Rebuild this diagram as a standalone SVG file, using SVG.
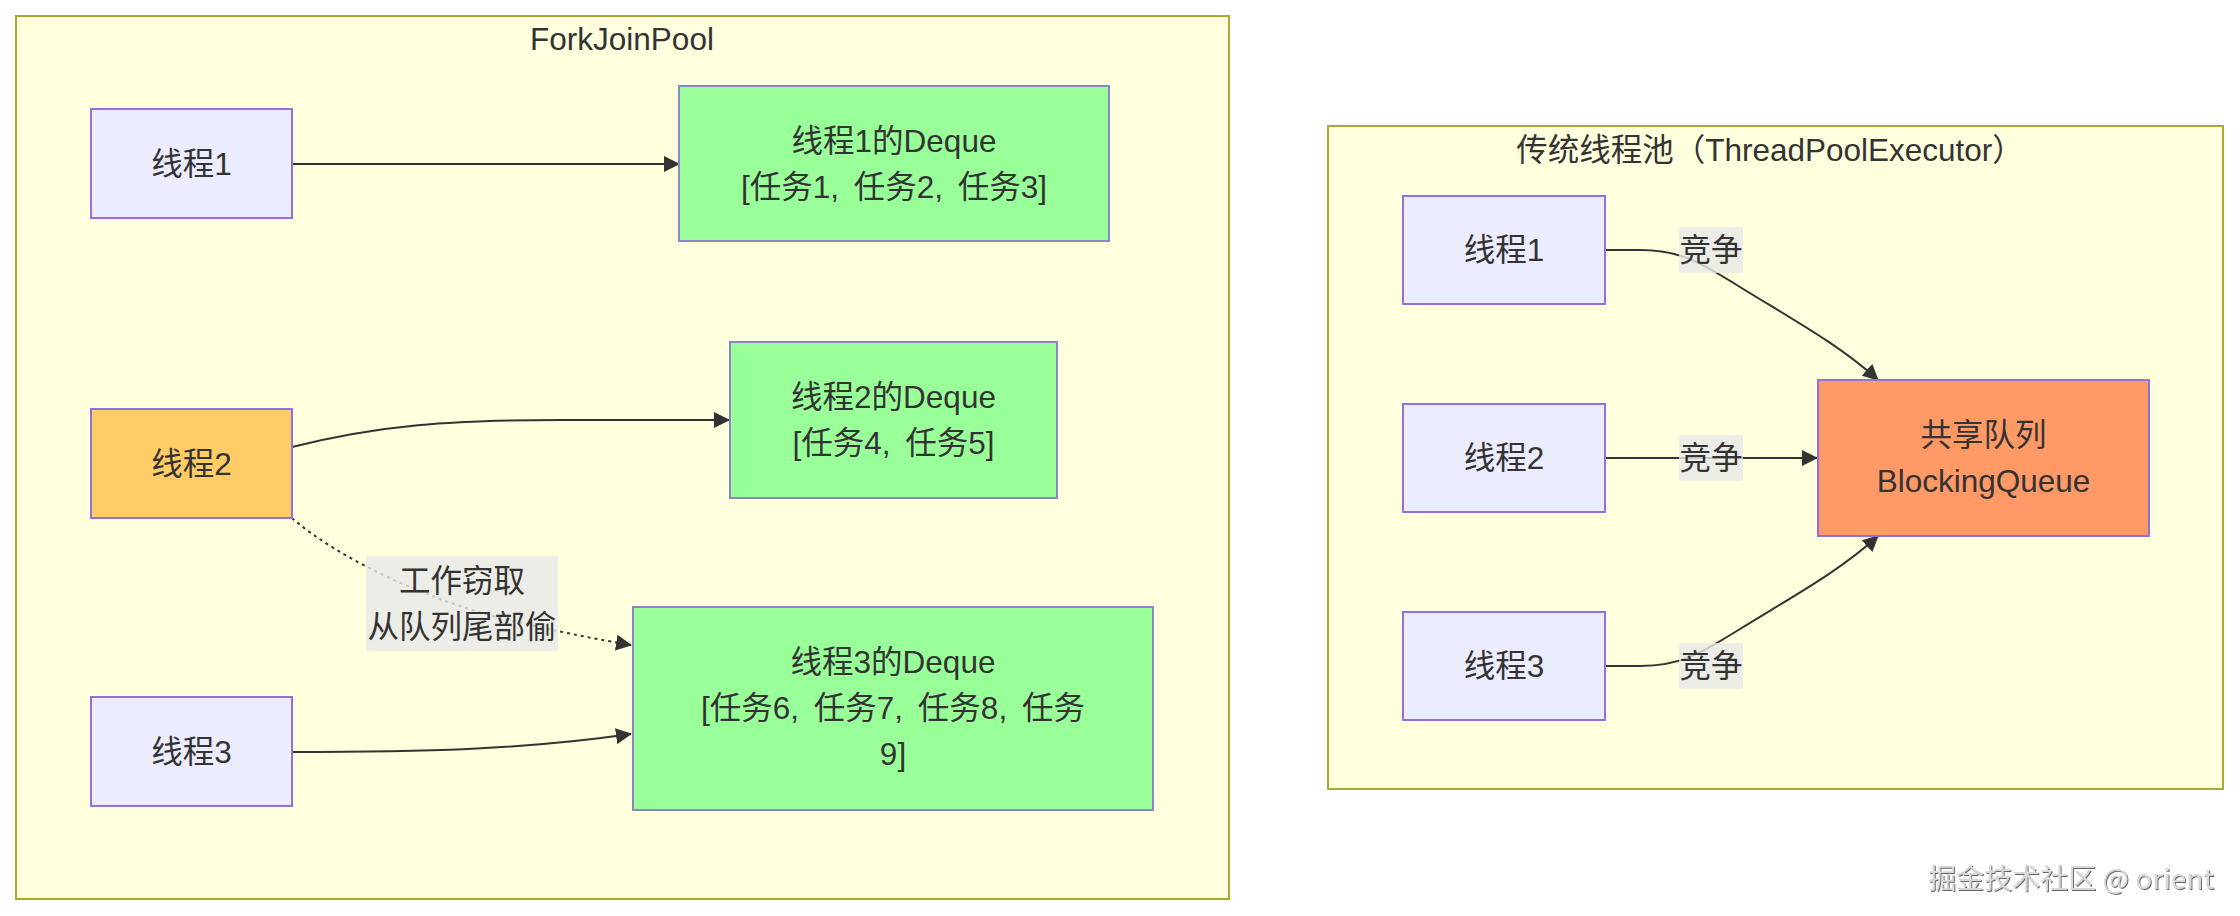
<svg xmlns="http://www.w3.org/2000/svg" width="2240" height="916" viewBox="0 0 2240 916">
<style>
text{font-family:"Liberation Sans","Noto Sans CJK SC",sans-serif;fill:#333;font-size:31.5px;text-anchor:middle;dominant-baseline:central}
.tasks{word-spacing:6px}
.cluster{fill:#ffffde;stroke:#aaaa33;stroke-width:2}
.thread{fill:#ececff;stroke:#9370db;stroke-width:2}
.deque{fill:#99ff99;stroke:#8c86c9;stroke-width:2}
.busy{fill:#ffcc66;stroke:#9370db;stroke-width:2}
.shared{fill:#ff9966;stroke:#9370db;stroke-width:2}
.edge{fill:none;stroke:#333;stroke-width:2}
.dotted{stroke-dasharray:3 4}
.lbl{fill:#e8e8e8;fill-opacity:0.8}
.wm{fill:#d8d8d8;font-size:28px;text-anchor:end;font-family:"Noto Sans CJK SC","Liberation Sans",sans-serif}
</style>
<defs>
<marker id="arrow" markerUnits="userSpaceOnUse" markerWidth="16" markerHeight="16" refX="15" refY="8" orient="auto">
<path d="M0,0 L16,8 L0,16 z" fill="#333"/>
</marker>
<filter id="shadow" x="-10%" y="-30%" width="120%" height="160%">
<feDropShadow dx="1" dy="1" stdDeviation="0.6" flood-color="#555" flood-opacity="0.9"/>
</filter>
</defs>
<g id="cluster-forkjoin">
<rect class="cluster" x="16" y="16" width="1213" height="883"/>
<text x="622" y="39">ForkJoinPool</text>
</g>
<g id="cluster-traditional">
<rect class="cluster" x="1328" y="126" width="895" height="663"/>
<text x="1770" y="150">传统线程池（ThreadPoolExecutor）</text>
</g>
<g id="connectors">
<path class="edge" d="M292,164 L679,164" marker-end="url(#arrow)"/>
<path class="edge" d="M292,447 C380,425 450,420 560,420 L729,420" marker-end="url(#arrow)"/>
<path class="edge" d="M292,752 C420,752 520,750 631,734" marker-end="url(#arrow)"/>
<path class="edge dotted" d="M292,518 C340,560 430,600 500,618 C560,632 600,640 631,645" marker-end="url(#arrow)"/>
<path class="edge" d="M1606,250 L1640,250 C1680,250 1700,262 1740,287 C1790,318 1840,345 1878,380" marker-end="url(#arrow)"/>
<path class="edge" d="M1606,458 L1817,458" marker-end="url(#arrow)"/>
<path class="edge" d="M1606,666 L1640,666 C1680,666 1700,654 1740,629 C1790,598 1840,571 1878,536" marker-end="url(#arrow)"/>
<g id="label-steal">
<rect class="lbl" x="366" y="556" width="192" height="95"/>
<text x="462" y="581">工作窃取</text>
<text x="462" y="627">从队列尾部偷</text>
</g>
<g id="label-compete1">
<rect class="lbl" x="1679" y="227" width="64" height="46"/>
<text x="1711" y="250">竞争</text>
</g>
<g id="label-compete2">
<rect class="lbl" x="1679" y="435" width="64" height="46"/>
<text x="1711" y="458">竞争</text>
</g>
<g id="label-compete3">
<rect class="lbl" x="1679" y="643" width="64" height="46"/>
<text x="1711" y="666">竞争</text>
</g>
</g>
<g id="A1">
<rect class="thread" x="91" y="109" width="201" height="109"/>
<text x="191.5" y="164">线程1</text>
</g>
<g id="A2">
<rect class="busy" x="91" y="409" width="201" height="109"/>
<text x="191.5" y="464">线程2</text>
</g>
<g id="A3">
<rect class="thread" x="91" y="697" width="201" height="109"/>
<text x="191.5" y="752">线程3</text>
</g>
<g id="Q1">
<rect class="deque" x="679" y="86" width="430" height="155"/>
<text x="894" y="141">线程1的Deque</text>
<text class="tasks" x="894" y="187">[任务1, 任务2, 任务3]</text>
</g>
<g id="Q2">
<rect class="deque" x="730" y="342" width="327" height="156"/>
<text x="893.5" y="397">线程2的Deque</text>
<text class="tasks" x="893.5" y="443">[任务4, 任务5]</text>
</g>
<g id="Q3">
<rect class="deque" x="633" y="607" width="520" height="203"/>
<text x="893" y="662">线程3的Deque</text>
<text class="tasks" x="893" y="708">[任务6, 任务7, 任务8, 任务</text>
<text x="893" y="754">9]</text>
</g>
<g id="B1">
<rect class="thread" x="1403" y="196" width="202" height="108"/>
<text x="1504" y="250">线程1</text>
</g>
<g id="B2">
<rect class="thread" x="1403" y="404" width="202" height="108"/>
<text x="1504" y="458">线程2</text>
</g>
<g id="B3">
<rect class="thread" x="1403" y="612" width="202" height="108"/>
<text x="1504" y="666">线程3</text>
</g>
<g id="SQ">
<rect class="shared" x="1818" y="380" width="331" height="156"/>
<text x="1983.5" y="435">共享队列</text>
<text x="1983.5" y="481">BlockingQueue</text>
</g>
<text class="wm" x="2214" y="877" filter="url(#shadow)">掘金技术社区 @ orient</text>
</svg>
